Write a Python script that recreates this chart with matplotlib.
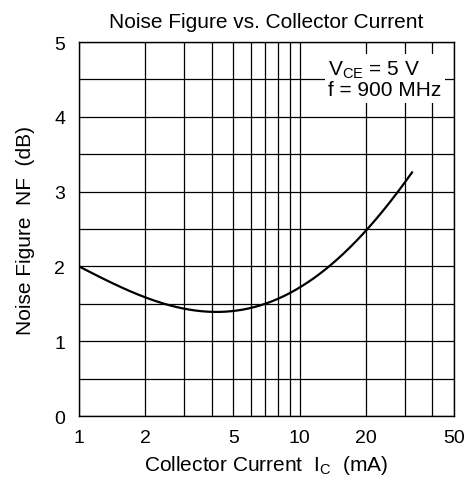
import numpy as np
import matplotlib
matplotlib.use("Agg")
import matplotlib.pyplot as plt
from matplotlib.ticker import FixedLocator, FixedFormatter, NullFormatter

plt.rcParams['font.family'] = ['Liberation Sans', 'DejaVu Sans']
plt.rcParams['mathtext.fontset'] = 'custom'
plt.rcParams['mathtext.rm'] = 'Liberation Sans'
plt.rcParams['mathtext.it'] = 'Liberation Sans'

# ----- data -----
ic_ma = [1.0, 1.5, 2.0, 3.0, 4.0, 4.5, 5.0, 6.0, 7.0, 8.0, 9.0, 10.0,
         13.7, 16.3, 20.0, 24.7, 29.5, 32.3]
nf_db = [2.0, 1.765, 1.59, 1.443, 1.385, 1.372, 1.39, 1.43, 1.496, 1.575, 1.655, 1.77,
         2.01, 2.21, 2.5, 2.75, 3.02, 3.26]

x_ticks = [1, 2, 5, 10, 20, 50]
x_grid = [1, 2, 3, 4, 5, 6, 7, 8, 9, 10, 20, 30, 40, 50]
y_ticks = [0, 1, 2, 3, 4, 5]

# ----- smooth least-squares fit in log x (reading noise would make a spline wiggle) -----
lx = np.log10(ic_ma)
w = np.ones(len(lx))
w[0] = w[-1] = 5
coef = np.polyfit(lx, nf_db, 4, w=w)
xs = np.linspace(lx[0], lx[-1], 400)
ys = np.polyval(coef, xs)

fig = plt.figure(figsize=(4.65, 4.89), dpi=100)
ax = fig.add_axes([0.170, 0.147, 0.806, 0.765])

ax.plot(10 ** xs, ys, color="black", lw=1.6, zorder=3)

ax.set_xscale("log")
ax.set_xlim(1, 50)
ax.set_ylim(0, 5)

ax.xaxis.set_major_locator(FixedLocator(x_ticks))
ax.xaxis.set_major_formatter(FixedFormatter([str(t) for t in x_ticks]))
ax.xaxis.set_minor_locator(FixedLocator(x_grid))
ax.xaxis.set_minor_formatter(NullFormatter())
ax.yaxis.set_major_locator(FixedLocator(y_ticks))
ax.yaxis.set_minor_locator(FixedLocator(np.arange(0, 5.01, 0.5)))

ax.grid(True, which="both", color="black", lw=0.9)
ax.tick_params(which="both", length=0, labelsize=14)
ax.tick_params(axis="x", pad=9)
ax.tick_params(axis="y", pad=10)
for s in ax.spines.values():
    s.set_linewidth(1.0)

ax.set_title("Noise Figure vs. Collector Current", fontsize=15, pad=11)
ax.set_xlabel("Collector Current  I$_\\mathrm{C}$  (mA)", fontsize=15, labelpad=5)
ax.set_ylabel("Noise Figure  NF  (dB)", fontsize=15, labelpad=14)

ax.text(0.665, 0.955, "V$_\\mathrm{CE}$ = 5 V\nf = 900 MHz", transform=ax.transAxes,
        fontsize=15, ha="left", va="top", linespacing=1.0, zorder=4,
        bbox=dict(facecolor="white", edgecolor="none", pad=2.5))

fig.savefig("out.png", dpi=100)
